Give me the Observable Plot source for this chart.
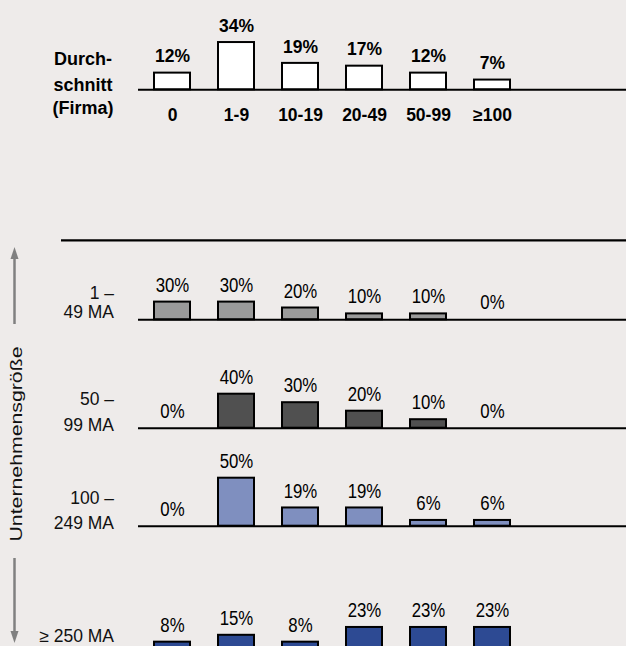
<!DOCTYPE html>
<html><head><meta charset="utf-8">
<script src="https://cdn.jsdelivr.net/npm/d3@7"></script>
<script src="https://cdn.jsdelivr.net/npm/@observablehq/plot@0.6"></script>
<style>
html,body{margin:0;padding:0;background:#EEEBEA;}
#chart{position:relative;width:626px;height:646px;overflow:hidden;background:#EEEBEA;font-family:"Liberation Sans",Arial,sans-serif;}
#chart svg{position:absolute;left:0;top:0;}
</style></head><body><div id="chart"></div>
<script>
// ---- data ----
const categories = ["0", "1-9", "10-19", "20-49", "50-99", "≥100"];
const averageLabel = ["Durch-", "schnitt", "(Firma)"];
const average = [12, 34, 19, 17, 12, 7];
const rowLabels = [["1 –", "49 MA"], ["50 –", "99 MA"], ["100 –", "249 MA"], ["≥ 250 MA"]];
const size1to49 = [30, 30, 20, 10, 10, 0];
const size50to99 = [0, 40, 30, 20, 10, 0];
const size100to249 = [0, 50, 19, 19, 6, 6];
const size250plus = [8, 15, 8, 23, 23, 23];
const axisTitle = "Unternehmensgröße";

// ---- layout ----
const W = 626, H = 646;
const chart = document.getElementById("chart");
const xScale = {domain: categories, range: [138, 526.6], paddingInner: 0.43, paddingOuter: 0.218, axis: null};

function squeeze(svg, sx, sy) {
  // narrow the value labels horizontally (reference uses a condensed-looking face)
  svg.querySelectorAll("g[aria-label='text'] text, text.value").forEach(t => {
    const tr = t.getAttribute("transform");
    if (tr && tr.includes("translate")) {
      t.setAttribute("transform", tr + ` scale(${sx},${sy})`);
    } else {
      const x = +t.getAttribute("x") || 0, y = +t.getAttribute("y") || 0;
      t.setAttribute("transform", `translate(${x},${y}) scale(${sx},${sy}) translate(${-x},${-y})`);
    }
  });
}

function panel(values, base, k, fill, font, showCategories, sx, sy) {
  const data = categories.map((c, i) => ({cat: c, v: values[i]}));
  const marks = [
    Plot.barY(data, {x: "cat", y: "v", fill, stroke: "#000", strokeWidth: 2}),
    Plot.ruleY([0], {stroke: "#000", strokeWidth: 2}),
    Plot.text(data, {x: "cat", y: "v", text: d => d.v + "%", dy: -17, lineAnchor: "middle", fill: "#000", ...font})
  ];
  const svg = Plot.plot({
    width: W, height: H,
    marginTop: 0, marginBottom: 0, marginLeft: 138, marginRight: 0,
    x: xScale,
    y: {domain: [0, 100], range: [base, base - 100 * k], axis: null},
    style: {background: "transparent", overflow: "visible"},
    marks
  });
  squeeze(svg, sx, sy);
  chart.appendChild(svg);
  if (showCategories) {
    const svg2 = Plot.plot({
      width: W, height: H,
      marginTop: 0, marginBottom: 0, marginLeft: 138, marginRight: 0,
      x: xScale,
      y: {domain: [0, 100], range: [base, base - 100 * k], axis: null},
      style: {background: "transparent", overflow: "visible"},
      marks: [Plot.text(data, {x: "cat", y: () => 0, text: "cat", dy: 26, lineAnchor: "middle", fill: "#000",
        fontFamily: "Liberation Sans, Arial, sans-serif", fontWeight: "bold", fontSize: 17.5})]
    });
    chart.appendChild(svg2);
  }
}

const boldFont = {fontFamily: "Liberation Sans, Arial, sans-serif", fontWeight: "bold", fontSize: 17.5};
const rowFont = {fontFamily: "Liberation Sans, Arial, sans-serif", fontSize: 20.5};

panel(average, 89.3, 1.39, "#FFFFFF", boldFont, true, 1, 1.1);
panel(size1to49, 319.3, 0.59, "#9A9A9A", rowFont, false, 0.82, 1);
panel(size50to99, 427.7, 0.85, "#505050", rowFont, false, 0.82, 1);
panel(size100to249, 525.7, 0.96, "#7F8FBF", rowFont, false, 0.82, 1);
panel(size250plus, 649.5, 0.98, "#2D4A93", rowFont, false, 0.82, 1);

// ---- decorations: labels, separator, arrows ----
const ns = "http://www.w3.org/2000/svg";
const deco = document.createElementNS(ns, "svg");
deco.setAttribute("width", W); deco.setAttribute("height", H);
function el(tag, attrs, text) {
  const e = document.createElementNS(ns, tag);
  for (const [a, v] of Object.entries(attrs)) e.setAttribute(a, v);
  if (text != null) e.textContent = text;
  deco.appendChild(e);
  return e;
}
// average label
const avgY = [59, 85, 108];
averageLabel.forEach((t, i) => el("text", {x: 83, y: avgY[i], "text-anchor": "middle", "dominant-baseline": "central",
  "font-family": "Liberation Sans, Arial, sans-serif", "font-weight": "bold", "font-size": 18, fill: "#000"}, t));
// separator
el("line", {x1: 61, x2: 626, y1: 240.3, y2: 240.3, stroke: "#000", "stroke-width": 2.2});
// row labels
const rowLineY = [[293, 311.5], [398.5, 424.5], [497.5, 523], [636]];
rowLabels.forEach((lines, r) => lines.forEach((t, i) => el("text", {x: 114, y: rowLineY[r][i], "text-anchor": "end",
  "dominant-baseline": "central", "font-family": "Liberation Sans, Arial, sans-serif", "font-size": 17.5, fill: "#111"}, t)));
// arrows
el("line", {x1: 14.5, x2: 14.5, y1: 324, y2: 256, stroke: "#808080", "stroke-width": 2.5});
el("path", {d: "M14.5,247 L18.5,259 L10.5,259 Z", fill: "#808080"});
el("line", {x1: 14.5, x2: 14.5, y1: 558, y2: 634, stroke: "#808080", "stroke-width": 2.5});
el("path", {d: "M14.5,643 L18.5,631 L10.5,631 Z", fill: "#808080"});
// rotated axis title
el("text", {x: 0, y: 0, transform: "translate(16,444) rotate(-90)", "text-anchor": "middle", "dominant-baseline": "central",
  "font-family": "Liberation Sans, Arial, sans-serif", "font-size": 17, fill: "#111",
  textLength: 195, lengthAdjust: "spacingAndGlyphs"}, axisTitle);
chart.appendChild(deco);
</script>
</body></html>
